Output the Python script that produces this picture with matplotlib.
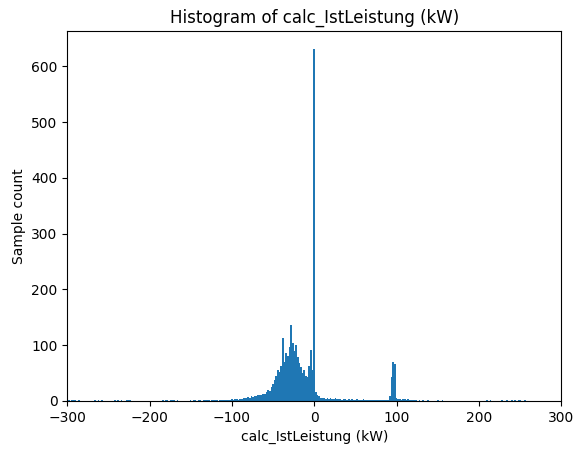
import numpy as np
import matplotlib
matplotlib.use("Agg")
import matplotlib.pyplot as plt

# 2 kW bins centred on even values, counts
bin_edges = np.arange(-301, 301, 2)

counts_m300 = [2, 1, 0, 1, 2, 1, 0, 1, 0, 0, 0, 0, 0, 0, 0, 0, 0, 1, 0, 1, 0, 1, 0, 0, 0]
counts_m250 = [0, 0, 0, 0, 1, 0, 1, 0, 1, 0, 0, 1, 2, 1, 0, 0, 0, 0, 0, 0, 0, 0, 0, 0, 0]
counts_m200 = [0, 0, 0, 0, 0, 0, 0, 0, 1, 0, 1, 1, 0, 1, 1, 1, 0, 1, 0, 0, 0, 0, 0, 0, 0]
counts_m150 = [1, 0, 1, 1, 0, 1, 1, 0, 1, 2, 1, 1, 0, 1, 2, 1, 1, 0, 2, 1, 1, 2, 1, 2, 1]
counts_m100 = [3, 2, 4, 3, 2, 4, 3, 5, 6, 5, 7, 6, 8, 7, 9, 8, 10, 11, 10, 13, 12, 16, 20, 18, 24]
counts_m50 = [30, 38, 45, 55, 52, 62, 113, 70, 86, 80, 97, 136, 104, 90, 100, 78, 68, 60, 50, 55,
              45, 43, 62, 92, 55]
counts_0 = [632, 15, 11, 8, 6, 5, 6, 4, 5, 4, 5, 3, 4, 5, 3, 4, 3, 2, 4, 3, 2, 3, 2, 3, 2]
counts_50 = [2, 3, 2, 1, 2, 3, 1, 2, 1, 2, 1, 1, 2, 1, 1, 2, 1, 1, 2, 1, 2, 8, 42, 70, 66]
counts_100 = [5, 3, 4, 2, 3, 4, 2, 3, 1, 2, 1, 2, 1, 0, 1, 0, 1, 0, 0, 1, 0, 0, 0, 0, 0]
counts_150 = [1, 0, 0, 1, 0, 0, 0, 0, 0, 0, 0, 0, 0, 0, 0, 0, 0, 0, 0, 0, 0, 0, 0, 0, 0]
counts_200 = [0, 0, 0, 0, 0, 1, 0, 1, 0, 0, 0, 0, 0, 0, 1, 0, 0, 1, 0, 0, 1, 0, 1, 0, 1]
counts_250 = [1, 0, 0, 1, 0, 0, 0, 0, 0, 0, 0, 0, 0, 0, 0, 0, 0, 0, 0, 0, 0, 0, 0, 0, 0]

counts = np.array(counts_m300 + counts_m250 + counts_m200 + counts_m150 + counts_m100
                  + counts_m50 + counts_0 + counts_50 + counts_100 + counts_150
                  + counts_200 + counts_250)

fig = plt.figure(figsize=(5.84, 4.55), dpi=100)
ax = fig.add_axes([0.115, 0.119, 0.846, 0.813])
ax.hist(bin_edges[:-1], bins=bin_edges, weights=counts, color='#1f77b4')
ax.set_xlim(-300, 300)
ax.set_title('Histogram of calc_IstLeistung (kW)')
ax.set_xlabel('calc_IstLeistung (kW)')
ax.set_ylabel('Sample count')
fig.savefig('out.png', dpi=100)
